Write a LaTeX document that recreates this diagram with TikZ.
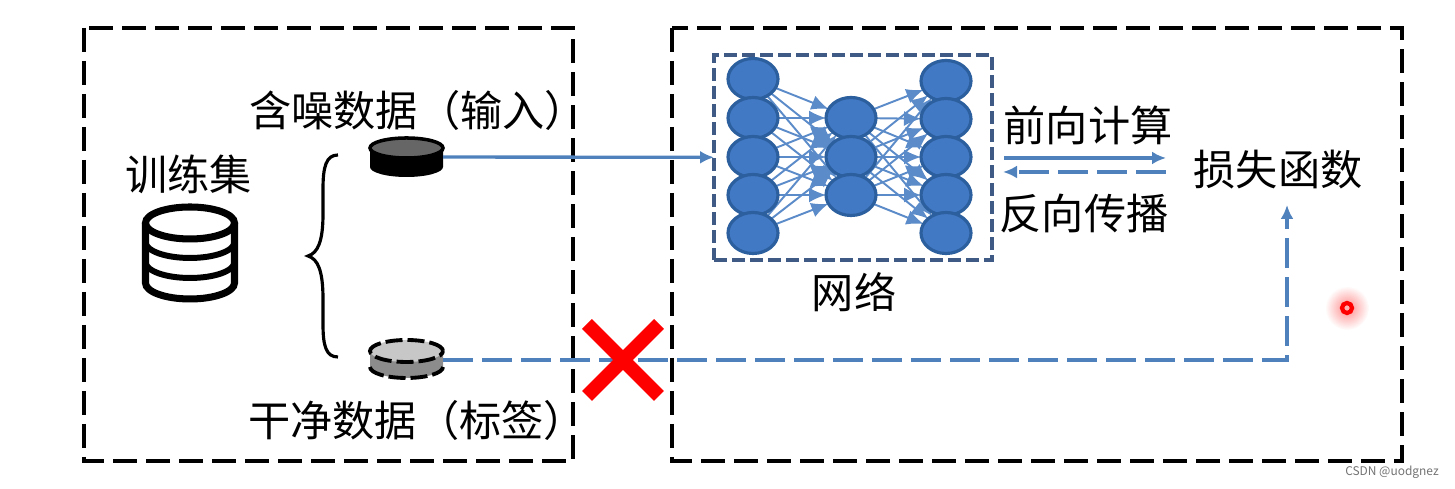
\documentclass[tikz,border=0pt]{standalone}
\usepackage{fontspec}
\setmainfont{Noto Sans CJK SC}
\usetikzlibrary{shapes.geometric,shapes.misc,arrows.meta,backgrounds}
\definecolor{linkblue}{HTML}{5B8BC8}
\definecolor{flowblue}{HTML}{4F81BD}
\definecolor{neuronfill}{HTML}{4279C4}
\definecolor{neuronedge}{HTML}{2C5F9E}
\definecolor{netedge}{HTML}{3F5A85}
\begin{document}
\begin{tikzpicture}[
        >={Latex[length=0.14cm,width=0.13cm]},
        groupbox/.style={draw, line width=1.2pt, dash pattern=on 0.24cm off 0.09cm},
        neuron/.style={draw=neuronedge, line width=0.9pt, fill=neuronfill, ellipse, inner sep=0pt, outer sep=0pt, minimum width=0.5cm, minimum height=0.41cm},
        link/.style={draw=linkblue, line width=0.55pt, -{Latex[length=0.17cm,width=0.15cm]}},
        flow/.style={draw=flowblue, line width=0.95pt, ->},
        dashflow/.style={flow, dash pattern=on 0.3cm off 0.09cm},
        label/.style={inner sep=0pt, font=\fontsize{12pt}{14pt}\selectfont},
        diskport/.style={inner sep=0pt, outer sep=0pt, minimum width=0.73cm, minimum height=0.39cm},
    ]
        \useasboundingbox (0,0) rectangle (14.55,4.89);

        % Group frames
        \draw[groupbox] (0.84,4.61) rectangle (5.73,0.28);
        \draw[groupbox] (6.72,4.61) rectangle (14.02,0.28);

        % Training set
        \node[label] (trainset) at (1.885,3.15) {训练集};
        \draw[line width=2pt] (1.455,2.66) -- (1.455,2.06)
            arc[start angle=180, end angle=360, x radius=0.445, y radius=0.16] -- (2.345,2.66);
        \draw[line width=2pt] (1.90,2.66) ellipse (0.445 and 0.16);
        \draw[line width=1.7pt] (1.455,2.47) arc[start angle=180, end angle=360, x radius=0.445, y radius=0.16];
        \draw[line width=1.7pt] (1.455,2.27) arc[start angle=180, end angle=360, x radius=0.445, y radius=0.16];

        % Brace
        \draw[line width=0.9pt] (3.38,3.34) .. controls (3.26,3.34) and (3.23,3.22) .. (3.23,3.0)
            -- (3.23,2.75) .. controls (3.23,2.48) and (3.18,2.36) .. (3.08,2.33)
            .. controls (3.18,2.30) and (3.23,2.18) .. (3.23,1.9)
            -- (3.23,1.65) .. controls (3.23,1.43) and (3.26,1.32) .. (3.38,1.32);

        % Data disks
        \node[label] (noisytext) at (4.18,3.79) {含噪数据（输入）};
        \fill[black] (3.70,3.41) -- (3.70,3.22)
            arc[start angle=180, end angle=360, x radius=0.365, y radius=0.10] -- (4.43,3.41) -- cycle;
        \draw[fill=black!60, line width=1pt] (4.065,3.41) ellipse (0.365 and 0.10);
        \node[diskport] (noisy) at (4.065,3.32) {};

        \node[label] (cleantext) at (4.17,0.69) {干净数据（标签）};
        \fill[black!45] (3.70,1.38) -- (3.70,1.22)
            arc[start angle=180, end angle=360, x radius=0.365, y radius=0.11] -- (4.43,1.38) -- cycle;
        \fill[black!22] (4.065,1.38) ellipse (0.365 and 0.11);
        \draw[line width=1.1pt, dash pattern=on 0.17cm off 0.05cm] (4.065,1.38) ellipse (0.365 and 0.11);
        \draw[line width=1.1pt, dash pattern=on 0.17cm off 0.05cm] (3.70,1.22)
            arc[start angle=180, end angle=360, x radius=0.365, y radius=0.11];
        \node[diskport] (clean) at (4.065,1.29) {};

        % Network
        \node[draw=netedge, line width=1.1pt, dash pattern=on 0.13cm off 0.05cm, minimum width=2.78cm, minimum height=2.05cm, inner sep=0pt, outer sep=0pt] (netbox) at (8.53,3.315) {};
        \node[label] (nettext) at (8.54,1.97) {网络};
        \foreach \row/\ypos in {1/4.10, 2/3.71, 3/3.32, 4/2.94, 5/2.56}
            \node[neuron] (in\row) at (7.53,\ypos) {};
        \foreach \row/\ypos in {1/3.71, 2/3.32, 3/2.94}
            \node[neuron] (mid\row) at (8.51,\ypos) {};
        \foreach \row/\ypos in {1/4.08, 2/3.70, 3/3.32, 4/2.94, 5/2.56}
            \node[neuron] (out\row) at (9.46,\ypos) {};
        \begin{scope}[on background layer]
            \foreach \a in {1,...,5} {
                \foreach \b in {1,2,3} {
                    \draw[link] (in\a) -- (mid\b);
                    \draw[link] (mid\b) -- (out\a);
                }
            }
        \end{scope}

        % Forward and backward passes
        \node[label] (fwdtext) at (10.88,3.64) {前向计算};
        \node[label] (backtext) at (10.84,2.75) {反向传播};
        \node[label] (loss) at (12.78,3.19) {损失函数};
        \coordinate (fwdstart) at (10.04,3.31);
        \coordinate (fwdend) at (11.66,3.31);
        \coordinate (backstart) at (11.66,3.17);
        \coordinate (backend) at (10.03,3.17);
        \draw[flow] (fwdstart) -- (fwdend);
        \draw[dashflow] (backstart) -- (backend);

        % Data paths
        \coordinate (lossin) at (12.87,2.84);
        \draw[flow] (noisy) -- (netbox);
        \draw[dashflow] (clean) -| (lossin);
        \node[cross out, draw=red, line width=4pt, inner sep=0pt, outer sep=0pt, minimum size=0.72cm] (block) at (6.23,1.29) {};

        % Pointer dot
        \shade[inner color=red!45, outer color=white] (13.47,1.81) circle (0.22);
        \node[circle, draw=red, line width=1.2pt, fill=red!30, inner sep=0pt, minimum size=0.1cm] (pointer) at (13.47,1.81) {};

        \node[text=black!55, inner sep=0pt, font=\fontsize{3.4pt}{4pt}\selectfont] (mark) at (13.92,0.17) {CSDN @uodgnez};
    \end{tikzpicture}
\end{document}
